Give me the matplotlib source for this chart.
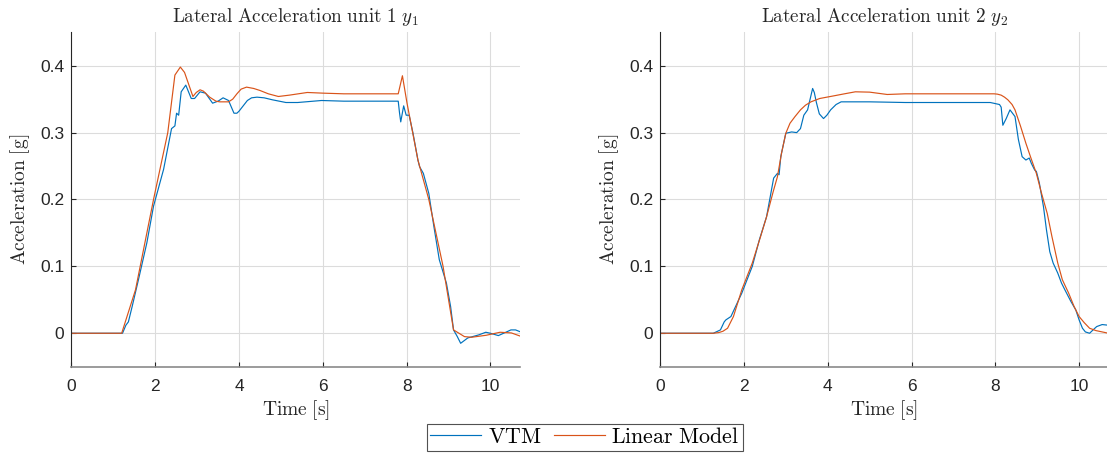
from matplotlib import pyplot as plt
from matplotlib.lines import Line2D

plt.rcParams['mathtext.fontset'] = 'cm'
plt.rcParams['font.family'] = ['Liberation Sans', 'DejaVu Sans']

# unit 1
t1_vtm = [0, 1.22, 1.3, 1.36, 1.45, 1.6, 1.8, 1.96, 2.2, 2.39, 2.47, 2.51, 2.56, 2.62, 2.73,
          2.86, 2.94, 3.07, 3.2, 3.37, 3.5, 3.62, 3.75, 3.88, 3.95, 4.0, 4.1, 4.2, 4.3,
          4.43, 4.6, 4.8, 5.12, 5.4, 5.97, 6.5, 7.0, 7.8, 7.83, 7.86, 7.93, 7.99, 8.06,
          8.15, 8.27, 8.31, 8.4, 8.53, 8.65, 8.78, 8.95, 9.05, 9.12, 9.21, 9.29, 9.46,
          9.72, 9.89, 10.0, 10.19, 10.35, 10.49, 10.6, 10.7]
y1_vtm = [0, 0, 0.012, 0.017, 0.04, 0.08, 0.135, 0.19, 0.245, 0.306, 0.31, 0.329, 0.326,
          0.361, 0.371, 0.351, 0.351, 0.361, 0.359, 0.344, 0.347, 0.352, 0.348, 0.329,
          0.329, 0.332, 0.34, 0.348, 0.352, 0.353, 0.352, 0.349, 0.345, 0.345, 0.348,
          0.347, 0.347, 0.347, 0.33, 0.316, 0.34, 0.326, 0.326, 0.3, 0.259, 0.249, 0.239,
          0.209, 0.16, 0.11, 0.075, 0.04, 0.005, -0.005, -0.015, -0.007, -0.0025, 0.0015,
          0.0, -0.0035, 0.001, 0.005, 0.005, 0.0025]
t1_lin = [0, 1.2, 1.53, 1.96, 2.3, 2.47, 2.6, 2.7, 2.9, 2.98, 3.07, 3.15, 3.3, 3.45, 3.54,
          3.75, 3.85, 3.95, 4.05, 4.18, 4.35, 4.5, 4.7, 4.94, 5.2, 5.63, 6.0, 6.5, 7.8,
          7.9, 8.01, 8.27, 8.53, 8.87, 9.12, 9.38, 9.55, 9.9, 10.23, 10.5, 10.7]
y1_lin = [0, 0, 0.065, 0.2, 0.3, 0.386, 0.398, 0.39, 0.354, 0.36, 0.364, 0.362, 0.353,
          0.347, 0.346, 0.346, 0.35, 0.358, 0.365, 0.368, 0.366, 0.363, 0.358, 0.354,
          0.356, 0.36, 0.359, 0.358, 0.358, 0.385, 0.344, 0.259, 0.2, 0.1, 0.005, -0.005,
          -0.006, -0.003, 0.0015, 0.0005, -0.004]

# unit 2
t2_vtm = [0, 1.27, 1.44, 1.53, 1.57, 1.69, 1.95, 2.2, 2.37, 2.54, 2.71, 2.8, 2.84, 2.88,
          3.0, 3.14, 3.26, 3.35, 3.43, 3.52, 3.58, 3.64, 3.68, 3.73, 3.8, 3.9, 3.98, 4.07,
          4.2, 4.32, 5.0, 5.85, 7.0, 7.88, 8.1, 8.14, 8.18, 8.26, 8.35, 8.47, 8.55, 8.64,
          8.73, 8.81, 8.86, 8.94, 8.98, 9.05, 9.15, 9.22, 9.3, 9.38, 9.49, 9.58, 9.66,
          9.8, 9.92, 10.0, 10.08, 10.15, 10.25, 10.35, 10.42, 10.55, 10.7]
y2_vtm = [0, 0, 0.005, 0.017, 0.02, 0.025, 0.06, 0.1, 0.14, 0.174, 0.232, 0.239, 0.237,
          0.264, 0.299, 0.301, 0.3, 0.306, 0.326, 0.334, 0.35, 0.366, 0.36, 0.345, 0.328,
          0.321, 0.326, 0.334, 0.342, 0.346, 0.346, 0.345, 0.345, 0.345, 0.342, 0.338,
          0.311, 0.321, 0.334, 0.324, 0.29, 0.264, 0.259, 0.262, 0.254, 0.244, 0.242,
          0.225, 0.189, 0.155, 0.122, 0.105, 0.09, 0.075, 0.065, 0.048, 0.035, 0.02,
          0.0075, 0.002, 0.0, 0.006, 0.01, 0.013, 0.012]
t2_lin = [0, 1.27, 1.4, 1.5, 1.61, 1.75, 1.95, 2.2, 2.4, 2.54, 2.7, 2.8, 2.9, 3.0, 3.1,
          3.22, 3.35, 3.47, 3.6, 3.81, 4.15, 4.4, 4.66, 5.0, 5.42, 5.85, 7.0, 7.97, 8.05,
          8.14, 8.22, 8.3, 8.4, 8.47, 8.6, 8.73, 8.85, 8.98, 9.1, 9.24, 9.35, 9.49, 9.6,
          9.75, 9.88, 10.0, 10.12, 10.25, 10.4, 10.55, 10.7]
y2_lin = [0, 0, 0.001, 0.003, 0.0075, 0.025, 0.065, 0.105, 0.145, 0.174, 0.212, 0.234,
          0.27, 0.299, 0.314, 0.324, 0.334, 0.341, 0.346, 0.351, 0.355, 0.358, 0.361,
          0.3605, 0.357, 0.358, 0.358, 0.358, 0.3575, 0.356, 0.353, 0.349, 0.342, 0.334,
          0.31, 0.284, 0.262, 0.239, 0.21, 0.179, 0.145, 0.105, 0.08, 0.06, 0.04, 0.025,
          0.016, 0.0075, 0.004, 0.002, 0.0]

titles = [r'$\mathrm{Lateral\ Acceleration\ unit\ 1\ }y_1$',
          r'$\mathrm{Lateral\ Acceleration\ unit\ 2\ }y_2$']
blue = '#0072BD'
orange = '#D95319'

fig = plt.figure(figsize=(11.07, 4.54), dpi=100)
ax1 = fig.add_axes([0.0645, 0.1923, 0.405, 0.7366])
ax2 = fig.add_axes([0.5963, 0.1923, 0.405, 0.7366])

data = [(t1_vtm, y1_vtm, t1_lin, y1_lin), (t2_vtm, y2_vtm, t2_lin, y2_lin)]
for ax, (tv, yv, tl, yl), title in zip([ax1, ax2], data, titles):
    ax.plot(tv, yv, color=blue, lw=0.85)
    ax.plot(tl, yl, color=orange, lw=0.85)
    ax.set_xlim(0, 10.7)
    ax.set_ylim(-0.05, 0.45)
    ax.set_xticks([0, 2, 4, 6, 8, 10])
    ax.set_yticks([0, 0.1, 0.2, 0.3, 0.4])
    ax.set_yticklabels(['0', '0.1', '0.2', '0.3', '0.4'])
    ax.grid(True, color='#dcdcdc', lw=0.8)
    ax.set_axisbelow(True)
    for s in ['top', 'right']:
        ax.spines[s].set_visible(False)
    ax.spines['left'].set_color('#262626')
    ax.spines['bottom'].set_color('#8a8a8a')
    ax.spines['bottom'].set_linewidth(1.2)
    ax.tick_params(direction='in', length=3.5, colors='#262626', labelsize=12.5)
    ax.tick_params(axis='x', pad=9)
    ax.tick_params(axis='y', pad=5)
    ax.set_title(title, fontsize=13.8, color='#262626', pad=7.5)
    ax.set_xlabel(r'$\mathrm{Time\ [s]}$', fontsize=14, color='#262626', labelpad=3)
    ax.set_ylabel(r'$\mathrm{Acceleration\ [g]}$', fontsize=14, color='#262626', labelpad=6)

handles = [Line2D([], [], color=blue, lw=0.85), Line2D([], [], color=orange, lw=0.85)]
leg = fig.legend(handles, [r'$\mathrm{VTM}$', r'$\mathrm{Linear\ Model}$'],
                 loc='center', bbox_to_anchor=(0.5285, 0.0363), ncol=2, fontsize=15.8,
                 frameon=True, fancybox=False, handlelength=2.3, handletextpad=0.3,
                 columnspacing=0.6, borderpad=0.15, borderaxespad=0)
leg.get_frame().set_edgecolor('#262626')
leg.get_frame().set_linewidth(0.8)

fig.savefig('out.png', dpi=100)
